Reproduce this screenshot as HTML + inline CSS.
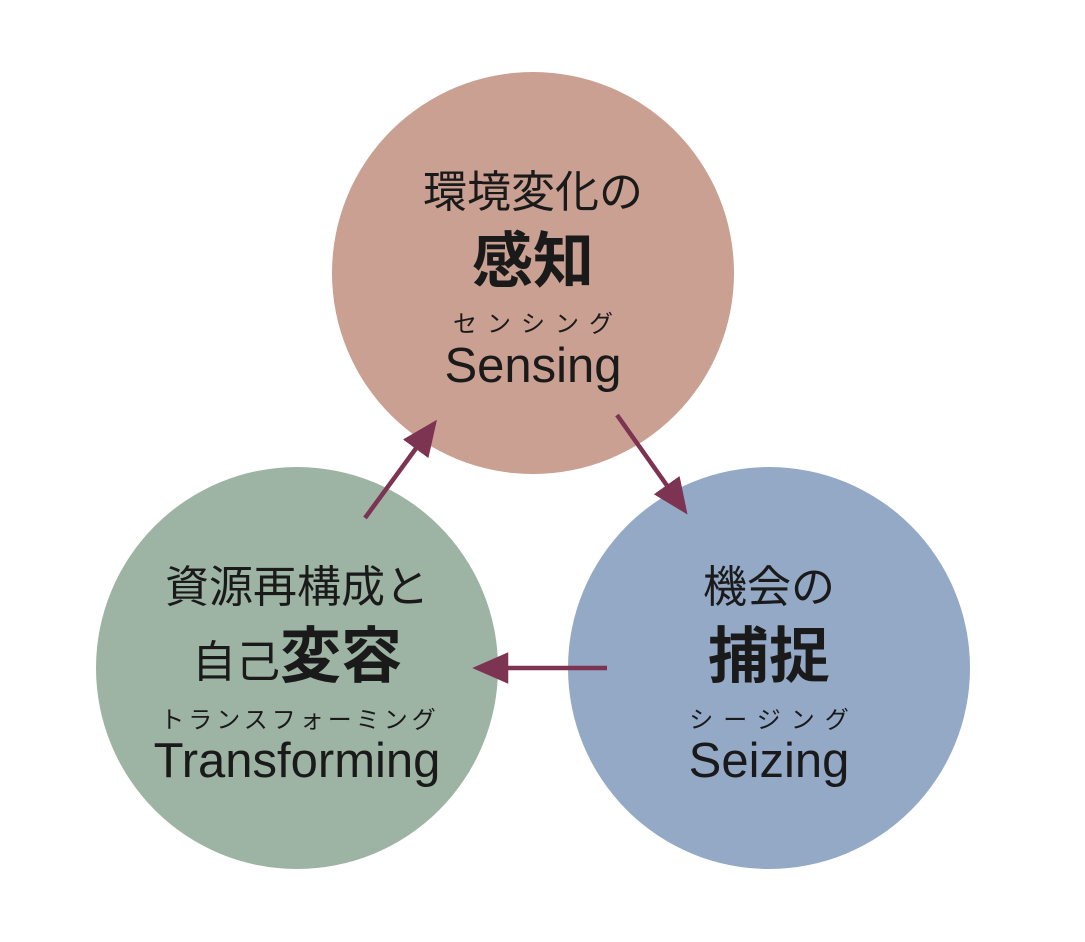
<!DOCTYPE html>
<html><head><meta charset="utf-8"><style>
body{margin:0;width:1085px;height:942px;background:#fff;overflow:hidden;position:relative;font-family:"Liberation Sans","Noto Sans CJK JP",sans-serif;color:#1a1a1a}
.c{position:absolute;width:402px;height:402px;border-radius:50%}
.t{position:absolute;width:402px;text-align:center;white-space:nowrap}
.j{font-size:44px;font-weight:400}
.b{font-size:61px;font-weight:700}
.k{font-size:24px;letter-spacing:10px}
.e{font-size:49px}
</style></head><body>
<div class="c" style="left:332px;top:72px;background:#c9a091"></div>
<div class="c" style="left:568px;top:467px;background:#93a9c6"></div>
<div class="c" style="left:96px;top:467px;background:#9db4a4"></div>

<div class="t j" style="left:332px;top:156px">環境変化の</div>
<div class="t b" style="left:332px;top:211px">感知</div>
<div class="t k" style="left:337px;top:304px">センシング</div>
<div class="t e" style="left:332px;top:338px">Sensing</div>

<div class="t j" style="left:568px;top:551px">機会の</div>
<div class="t b" style="left:568px;top:606px">捕捉</div>
<div class="t k" style="left:573px;top:700px">シージング</div>
<div class="t e" style="left:568px;top:733px">Seizing</div>

<div class="t j" style="left:96px;top:551px">資源再構成と</div>
<div class="t" style="left:96px;top:606px"><span class="j">自己</span><span class="b">変容</span></div>
<div class="t k" style="left:99px;top:700px;letter-spacing:4px">トランスフォーミング</div>
<div class="t e" style="left:96px;top:733px">Transforming</div>

<svg width="1085" height="942" style="position:absolute;left:0;top:0">
<defs><marker id="a" markerWidth="8" markerHeight="8" refX="0.5" refY="4" orient="auto" markerUnits="strokeWidth"><path d="M0,0.5 L8,4 L0,7.5 z" fill="#7d3352"/></marker></defs>
<g stroke="#7d3352" stroke-width="4.5" fill="none">
<line x1="365" y1="518" x2="417" y2="447" marker-end="url(#a)"/>
<line x1="617" y1="415" x2="668" y2="487" marker-end="url(#a)"/>
<line x1="607" y1="668" x2="506" y2="668" marker-end="url(#a)"/>
</g></svg>
</body></html>
